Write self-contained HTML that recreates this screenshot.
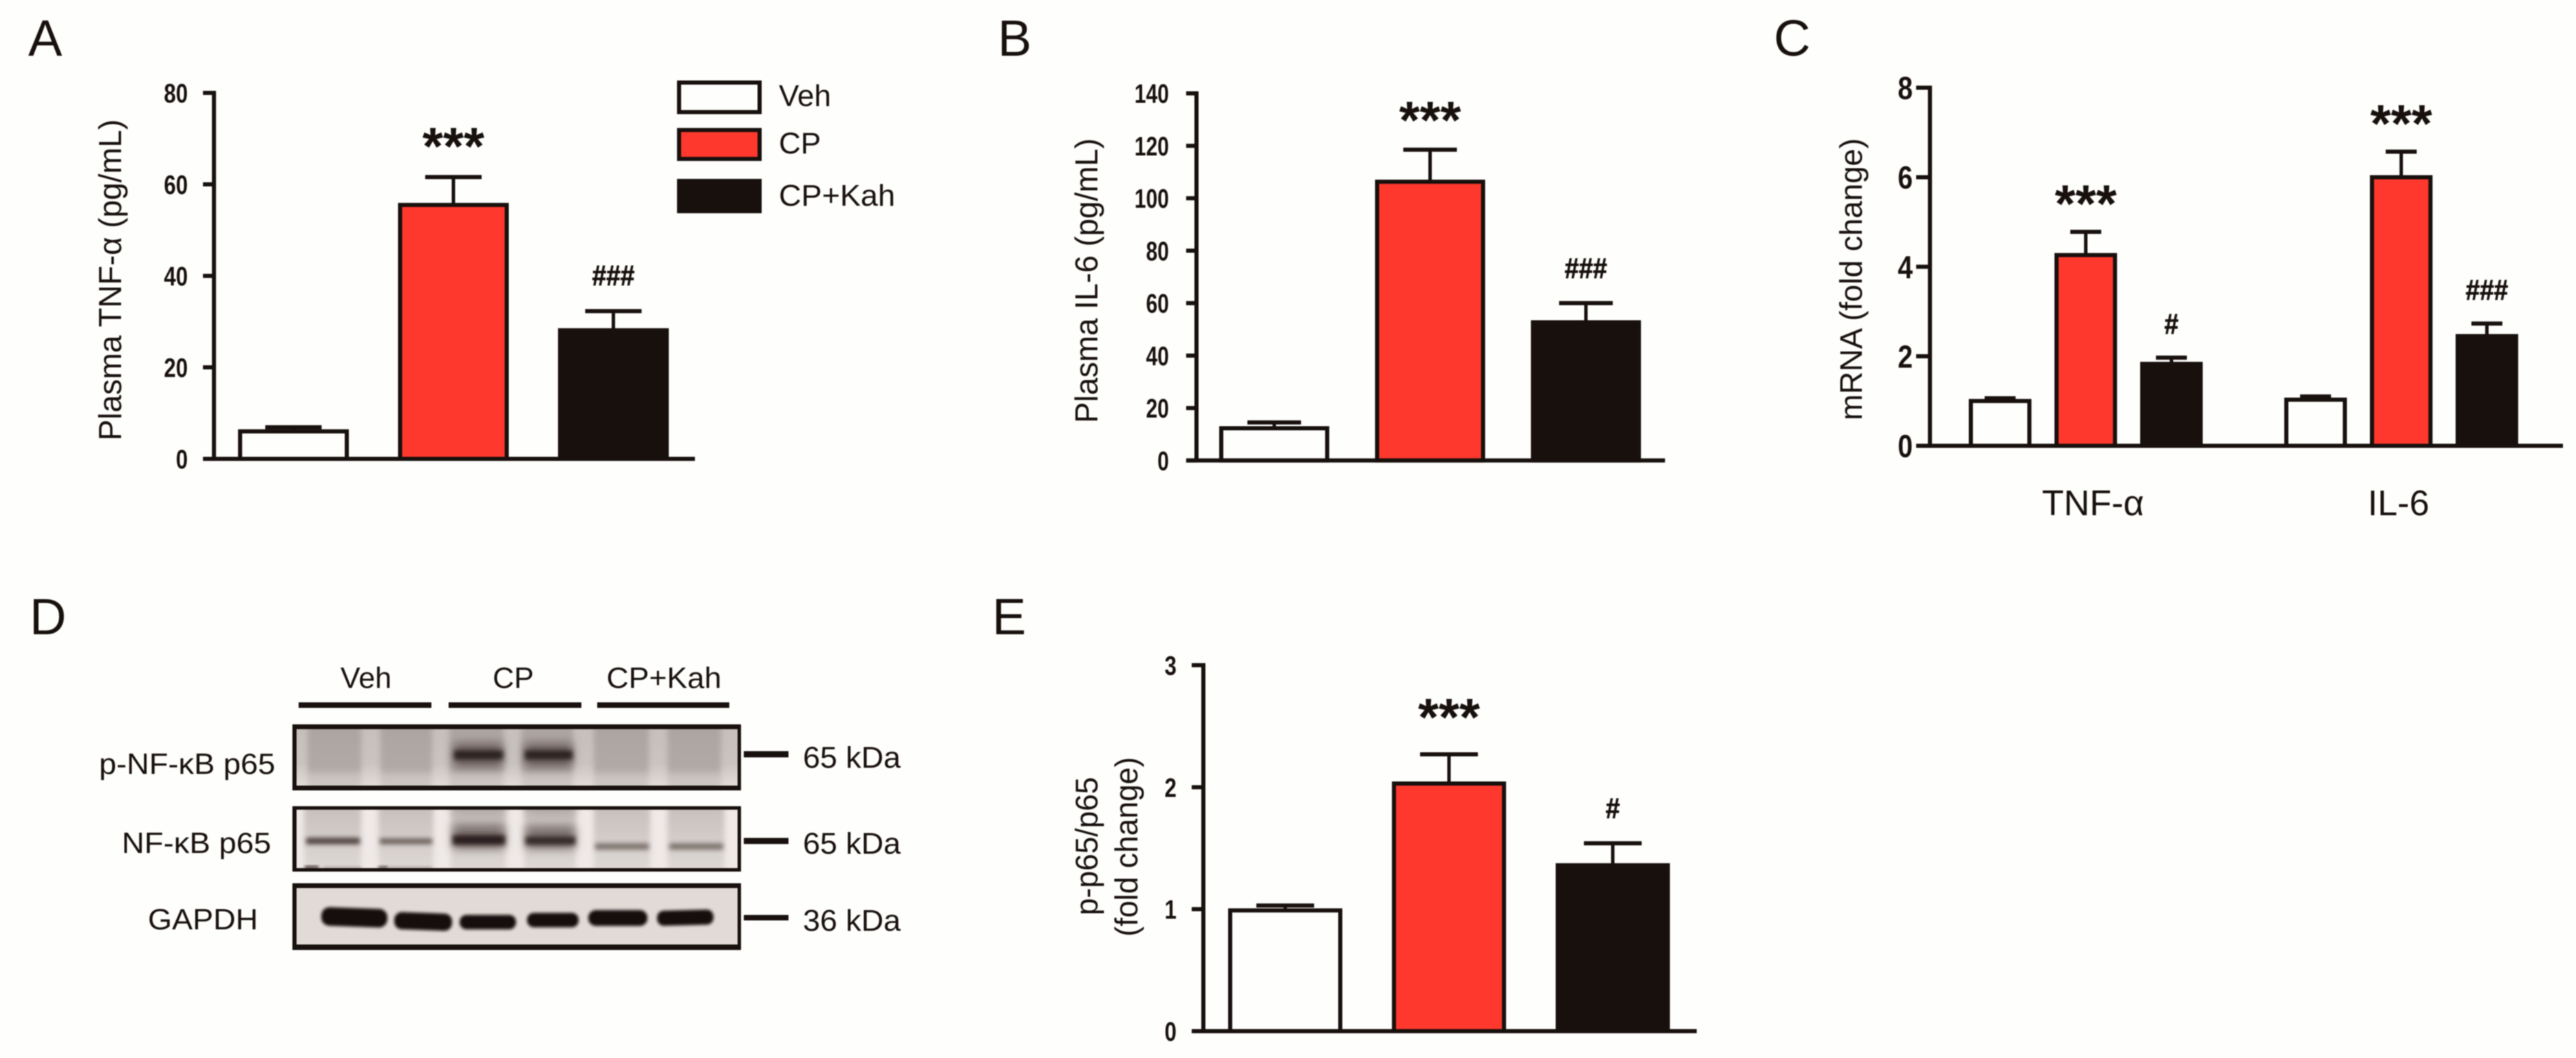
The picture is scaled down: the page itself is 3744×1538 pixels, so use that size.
<!DOCTYPE html>
<html lang="en">
<head>
<meta charset="utf-8">
<title>Plasma cytokines and NF-κB figure</title>
<style>
html,body{margin:0;padding:0;background:#fefefd;width:3744px;height:1538px;overflow:hidden}
svg{display:block;filter:blur(.7px)}
text{font-family:"Liberation Sans",Arial,sans-serif;fill:#17100d}
</style>
</head>
<body>
<svg id="figure" xmlns="http://www.w3.org/2000/svg" width="3744" height="1538" viewBox="0 0 3744 1538">
<defs>
  <filter id="b2" x="-20%" y="-20%" width="140%" height="140%"><feGaussianBlur stdDeviation="2"/></filter>
  <filter id="b3" x="-20%" y="-60%" width="140%" height="220%"><feGaussianBlur stdDeviation="3.5"/></filter>
  <filter id="b4" x="-20%" y="-20%" width="140%" height="140%"><feGaussianBlur stdDeviation="4"/></filter>
  <filter id="b6" x="-20%" y="-60%" width="140%" height="220%"><feGaussianBlur stdDeviation="7"/></filter>
  <linearGradient id="gap1" x1="0" y1="0" x2="0" y2="1"><stop offset="0" stop-color="#c6bfbb"/><stop offset=".6" stop-color="#cac3bf"/><stop offset="1" stop-color="#e2dcd8"/></linearGradient>
  <linearGradient id="lane1" x1="0" y1="0" x2="0" y2="1"><stop offset="0" stop-color="#aba3a0"/><stop offset=".65" stop-color="#b1a9a6"/><stop offset=".74" stop-color="#c9c2be"/><stop offset="1" stop-color="#d5cec9"/></linearGradient>
  <linearGradient id="lane2" x1="0" y1="0" x2="0" y2="1"><stop offset="0" stop-color="#c4bcb9"/><stop offset=".4" stop-color="#cfc8c5"/><stop offset=".7" stop-color="#d8d2cf"/><stop offset="1" stop-color="#e2dcd9"/></linearGradient>
  <clipPath id="clip1"><rect x="431" y="1060" width="641" height="82"/></clipPath>
  <clipPath id="clip2"><rect x="431" y="1177" width="641" height="85"/></clipPath>
  <clipPath id="clip3"><rect x="431" y="1291" width="641" height="82"/></clipPath>
</defs>
<rect x="0" y="0" width="3744" height="1538" fill="#fefefd"/>

<text x="41" y="81" font-size="74">A</text>
<text x="1450" y="81" font-size="74">B</text>
<text x="2578" y="81" font-size="74">C</text>
<text x="43" y="922" font-size="74">D</text>
<text x="1442" y="922" font-size="74">E</text>

<text transform="translate(176 407) rotate(-90)" text-anchor="middle" font-size="46" textLength="467" lengthAdjust="spacingAndGlyphs">Plasma TNF-α (pg/mL)</text>
<text transform="translate(1595 408) rotate(-90)" text-anchor="middle" font-size="46" textLength="414" lengthAdjust="spacingAndGlyphs">Plasma IL-6 (pg/mL)</text>
<text transform="translate(2706 406) rotate(-90)" text-anchor="middle" font-size="45" textLength="410" lengthAdjust="spacingAndGlyphs">mRNA (fold change)</text>
<text transform="translate(1595 1230) rotate(-90)" text-anchor="middle" font-size="45" textLength="201" lengthAdjust="spacingAndGlyphs">p-p65/p65</text>
<text transform="translate(1653 1231) rotate(-90)" text-anchor="middle" font-size="46" textLength="261" lengthAdjust="spacingAndGlyphs">(fold change)</text>

<g>
  <rect x="987" y="120" width="117" height="43" fill="#fefefd" stroke="#17100d" stroke-width="6"/>
  <rect x="987" y="189" width="117" height="42" fill="#ff382d" stroke="#17100d" stroke-width="6"/>
  <rect x="984" y="260" width="123" height="50" fill="#17100d"/>
  <text x="1132" y="154" font-size="44">Veh</text>
  <text x="1132" y="223" font-size="44">CP</text>
  <text x="1132" y="299" font-size="44" textLength="169" lengthAdjust="spacingAndGlyphs">CP+Kah</text>
</g>

<g>
  <text x="532" y="1000" text-anchor="middle" font-size="43">Veh</text>
  <text x="746" y="1000" text-anchor="middle" font-size="43">CP</text>
  <text x="965" y="1000" text-anchor="middle" font-size="43" textLength="167" lengthAdjust="spacingAndGlyphs">CP+Kah</text>
  <rect x="434" y="1021" width="193" height="8" fill="#17100d"/>
  <rect x="652" y="1021" width="193" height="8" fill="#17100d"/>
  <rect x="868" y="1021" width="192" height="8" fill="#17100d"/>

  <text x="144" y="1125" font-size="43" textLength="256" lengthAdjust="spacingAndGlyphs">p-NF-κB p65</text>
  <text x="177" y="1240" font-size="43" textLength="217" lengthAdjust="spacingAndGlyphs">NF-κB p65</text>
  <text x="215" y="1351" font-size="43" textLength="160" lengthAdjust="spacingAndGlyphs">GAPDH</text>

  <g>
    <rect x="425" y="1053" width="652" height="96" fill="#17100d"/>
    <rect x="431" y="1060" width="641" height="82" fill="url(#gap1)"/>
    <g clip-path="url(#clip1)">
      <g filter="url(#b4)">
        <rect x="447" y="1040" width="78" height="120" fill="url(#lane1)"/>
        <rect x="553" y="1040" width="75" height="120" fill="url(#lane1)"/>
        <rect x="653" y="1040" width="79" height="120" fill="url(#lane1)"/>
        <rect x="758" y="1040" width="75" height="120" fill="url(#lane1)"/>
        <rect x="863" y="1040" width="80" height="120" fill="url(#lane1)"/>
        <rect x="970" y="1040" width="78" height="120" fill="url(#lane1)"/>
      </g>
      <g filter="url(#b6)" fill="#6d615e">
        <rect x="659" y="1080" width="72" height="36"/>
        <rect x="762" y="1080" width="70" height="36"/>
      </g>
      <g filter="url(#b3)" fill="#2b201e">
        <rect x="660" y="1091" width="71" height="13"/>
        <rect x="763" y="1091" width="69" height="13"/>
      </g>
    </g>
  </g>

  <g>
    <rect x="425" y="1172" width="652" height="95" fill="#17100d"/>
    <rect x="431" y="1177" width="641" height="85" fill="#efe9e7"/>
    <g clip-path="url(#clip2)">
      <g filter="url(#b4)">
        <rect x="442" y="1160" width="83" height="115" fill="url(#lane2)"/>
        <rect x="550" y="1160" width="80" height="115" fill="url(#lane2)"/>
        <rect x="655" y="1160" width="80" height="115" fill="url(#lane2)"/>
        <rect x="762" y="1160" width="75" height="115" fill="url(#lane2)"/>
        <rect x="863" y="1160" width="82" height="115" fill="url(#lane2)"/>
        <rect x="970" y="1160" width="83" height="115" fill="url(#lane2)"/>
      </g>
      <g filter="url(#b6)" fill="#7d726e">
        <rect x="658" y="1198" width="76" height="36"/>
        <rect x="764" y="1200" width="72" height="34"/>
        <rect x="658" y="1170" width="76" height="14" fill="#aea5a2"/>
        <rect x="764" y="1170" width="72" height="14" fill="#aea5a2"/>
      </g>
      <g filter="url(#b3)">
        <rect x="445" y="1218" width="78" height="9" fill="#493c38"/>
        <rect x="552" y="1219" width="76" height="8" fill="#665b57"/>
        <rect x="658" y="1214" width="76" height="14" fill="#2a1f1c"/>
        <rect x="764" y="1216" width="72" height="12" fill="#352a27"/>
        <rect x="865" y="1226" width="78" height="9" fill="#7a6f6b"/>
        <rect x="973" y="1226" width="78" height="9" fill="#7a6f6b"/>
      </g>
      <g filter="url(#b2)" fill="#5a4e4a">
        <rect x="443" y="1258" width="20" height="5"/>
        <rect x="550" y="1259" width="14" height="4"/>
        <rect x="470" y="1260" width="55" height="3" fill="#a89f9b"/>
        <rect x="566" y="1260" width="62" height="3" fill="#a89f9b"/>
      </g>
    </g>
  </g>

  <g>
    <rect x="425" y="1284" width="652" height="97" fill="#17100d"/>
    <rect x="431" y="1291" width="641" height="82" fill="#e2dad7"/>
    <g filter="url(#b2)" fill="#17100d" clip-path="url(#clip3)">
      <rect x="467" y="1320" width="96" height="27" rx="12" transform="rotate(2 515 1333)"/>
      <rect x="573" y="1327" width="84" height="25" rx="11" transform="rotate(2 615 1339)"/>
      <rect x="668" y="1330" width="82" height="21" rx="10"/>
      <rect x="766" y="1327" width="75" height="21" rx="10"/>
      <rect x="855" y="1323" width="86" height="23" rx="11"/>
      <rect x="955" y="1323" width="82" height="22" rx="10" transform="rotate(-1.5 996 1334)"/>
    </g>
  </g>

  <rect x="1081" y="1092" width="65" height="9" fill="#17100d"/>
  <rect x="1081" y="1218" width="65" height="9" fill="#17100d"/>
  <rect x="1081" y="1330" width="65" height="8" fill="#17100d"/>
  <text x="1167" y="1116" font-size="44" textLength="142" lengthAdjust="spacingAndGlyphs">65 kDa</text>
  <text x="1167" y="1241" font-size="44" textLength="142" lengthAdjust="spacingAndGlyphs">65 kDa</text>
  <text x="1167" y="1353" font-size="44" textLength="142" lengthAdjust="spacingAndGlyphs">36 kDa</text>
</g>
</svg>
<script>
// Panel A: plasma TNF-alpha
const panelAMeans = [6.0, 55.5, 28.1];
const panelAUpper = [6.9, 61.6, 32.3];
const panelATicks = [0, 20, 40, 60, 80];
const panelAMarks = ['', '***', '###'];
// Panel B: plasma IL-6
const panelBMeans = [12.3, 106.3, 52.7];
const panelBUpper = [14.5, 118.5, 60];
const panelBTicks = [0, 20, 40, 60, 80, 100, 120, 140];
const panelBMarks = ['', '***', '###'];
// Panel C: mRNA fold change
const panelCCategories = ['TNF-α', 'IL-6'];
const panelCMeans = [1.0, 4.26, 1.83, 1.03, 6.0, 2.45];
const panelCUpper = [1.06, 4.78, 1.97, 1.1, 6.57, 2.73];
const panelCTicks = [0, 2, 4, 6, 8];
const panelCMarks = ['', '***', '#', '', '***', '###'];
// Panel E: p-p65/p65 fold change
const panelEMeans = [0.99, 2.03, 1.36];
const panelEUpper = [1.03, 2.27, 1.54];
const panelETicks = [0, 1, 2, 3];
const panelEMarks = ['', '***', '#'];
// Shared treatment groups
const treatmentGroups = ['veh', 'cp', 'cp-kah'];
const treatmentFills = ['#fefefd', '#ff382d', '#17100d'];

const NS = 'http://www.w3.org/2000/svg';
const INK = '#17100d';
const figure = document.getElementById('figure');

function make(tag, attrs, parent) {
  const node = document.createElementNS(NS, tag);
  for (const k in attrs) node.setAttribute(k, attrs[k]);
  parent.appendChild(node);
  return node;
}

function drawPanel(p) {
  const g = make('g', {}, figure);
  
  
  const y = v => p.y0 - (v / p.max) * (p.y0 - p.yTop);

  p.means.forEach((m, i) => {
    const cx = p.center(i);
    const group = treatmentGroups[i % 3];
    const fill = treatmentFills[i % 3];
    const stem = make('line', {x1: cx, x2: cx, y1: y(p.upper[i]), y2: y(m), stroke: INK, 'stroke-width': 5}, g);
    
    
    const cap = make('line', {x1: cx - p.capW / 2, x2: cx + p.capW / 2, y1: y(p.upper[i]), y2: y(p.upper[i]), stroke: INK, 'stroke-width': 6}, g);
    
    
    const bar = make('rect', {x: cx - p.barW / 2, y: y(m), width: p.barW, height: p.y0 - y(m), fill: fill, stroke: INK, 'stroke-width': 6}, g);
    
    

    const mark = p.marks[i];
    if (mark) {
      const isStar = mark.charAt(0) === '*';
      const fs = isStar ? p.starSize : p.hashSize;
      const gap = isStar ? p.starGap : p.hashGap;
      const cy = y(p.upper[i]) - gap;
      const base = cy + (isStar ? 0.5 : 0.35) * fs;
      const sx = isStar ? 1 : 0.88;
      const t = make('text', {
        transform: 'translate(' + cx + ' ' + base + ') scale(' + sx + ' 1)',
        'text-anchor': 'middle', 'font-size': fs, 'font-weight': 'bold',
        stroke: isStar ? 'none' : INK, 'stroke-width': 0.8
      }, g);
      t.textContent = mark;
      
      
    }
  });

  const yAxis = make('line', {x1: p.axisX, x2: p.axisX, y1: p.yTop - 3, y2: p.y0, stroke: INK, 'stroke-width': 6}, g);
  
  
  const xAxis = make('line', {x1: p.axisX - p.tickLen, x2: p.xEnd, y1: p.y0, y2: p.y0, stroke: INK, 'stroke-width': 6}, g);
  
  

  p.ticks.forEach(v => {
    const tick = make('line', {x1: p.axisX - p.tickLen, x2: p.axisX, y1: y(v), y2: y(v), stroke: INK, 'stroke-width': 6}, g);
    
    
    const label = make('text', {
      transform: 'translate(' + p.labelX + ' ' + (y(v) + p.tickFont * 0.36) + ') scale(' + p.tickScale + ' 1)',
      'text-anchor': 'end', 'font-size': p.tickFont, 'font-weight': 'bold'
    }, g);
    label.textContent = String(v);
    
    
  });
  return g;
}

drawPanel({id: 'a', means: panelAMeans, upper: panelAUpper, ticks: panelATicks, marks: panelAMarks, max: 80,
  yTop: 135, y0: 667, axisX: 311, tickLen: 16, xEnd: 1010, labelX: 273, tickFont: 39, tickScale: 0.8,
  center: i => 426.5 + 232.5 * i, barW: 155, capW: 82, starSize: 77, hashSize: 42, starGap: 57, hashGap: 52});

drawPanel({id: 'b', means: panelBMeans, upper: panelBUpper, ticks: panelBTicks, marks: panelBMarks, max: 140,
  yTop: 135.7, y0: 669.4, axisX: 1739, tickLen: 15, xEnd: 2420, labelX: 1699, tickFont: 39, tickScale: 0.77,
  center: i => 1852 + 226.5 * i, barW: 154, capW: 78, starSize: 77, hashSize: 42, starGap: 55, hashGap: 51});

const panelC = drawPanel({id: 'c', means: panelCMeans, upper: panelCUpper, ticks: panelCTicks, marks: panelCMarks, max: 8,
  yTop: 127.5, y0: 648, axisX: 2805, tickLen: 20, xEnd: 3725, labelX: 2780, tickFont: 46, tickScale: 0.85,
  center: i => 2907 + 124.5 * (i % 3) + 458.5 * Math.floor(i / 3), barW: 85, capW: 45, starSize: 77, hashSize: 42, starGap: 53, hashGap: 49});

panelCCategories.forEach((name, i) => {
  const cat = make('text', {x: 3042 + 444 * i, y: 749, 'text-anchor': 'middle', 'font-size': 52}, panelC);
  cat.textContent = name;
  
  
});

drawPanel({id: 'e', means: panelEMeans, upper: panelEUpper, ticks: panelETicks, marks: panelEMarks, max: 3,
  yTop: 967, y0: 1499, axisX: 1749, tickLen: 17, xEnd: 2466, labelX: 1710, tickFont: 39, tickScale: 0.8,
  center: i => 1868 + 238 * i, barW: 160, capW: 84, starSize: 77, hashSize: 42, starGap: 66, hashGap: 51});
</script>
</body>
</html>
